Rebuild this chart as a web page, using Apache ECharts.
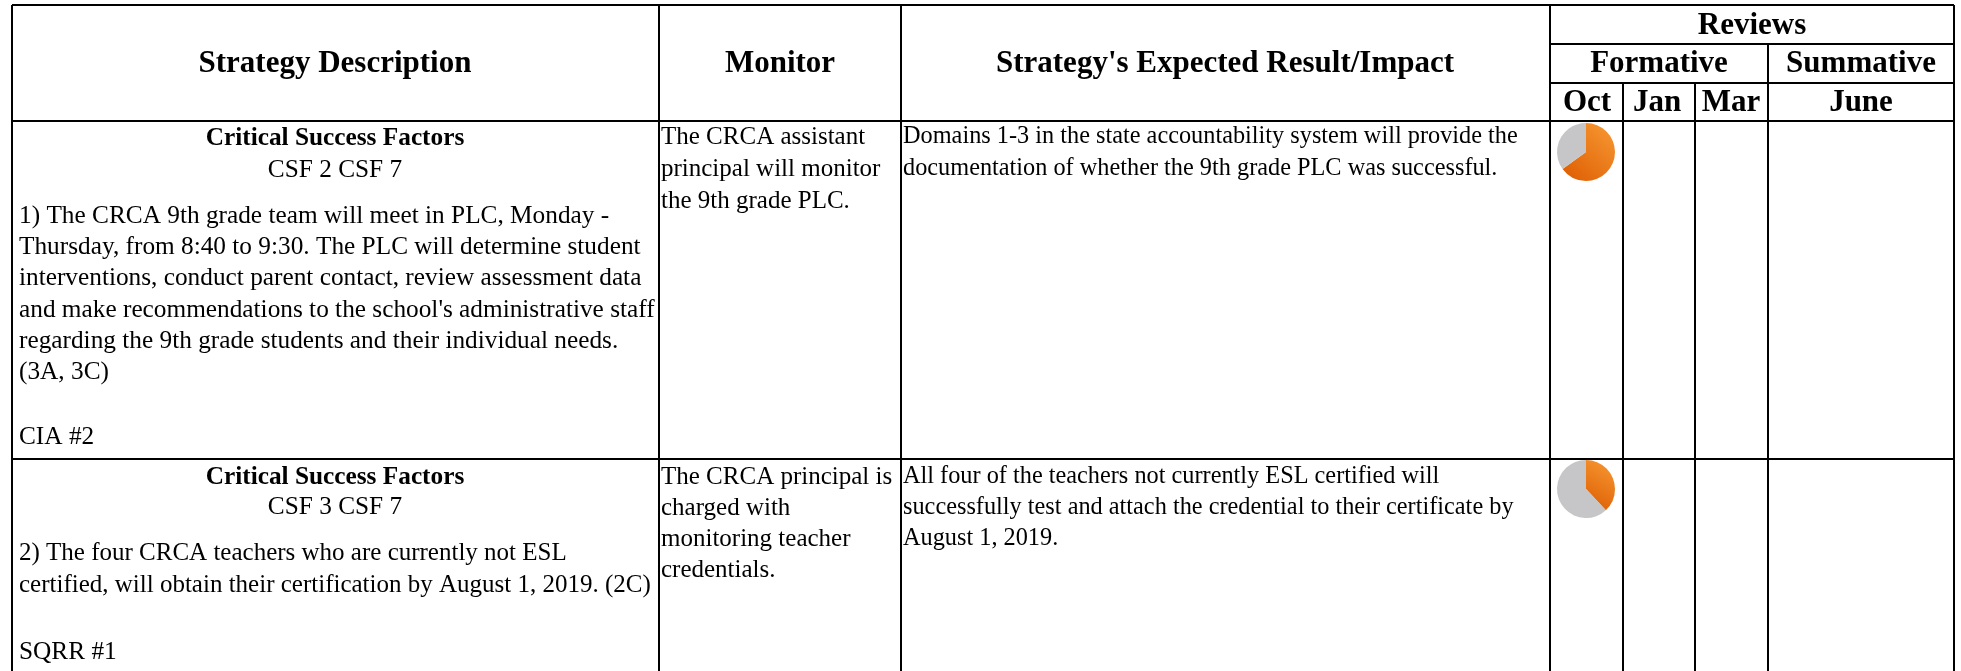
<!DOCTYPE html>
<html>
<head>
<meta charset="utf-8">
<script src="https://cdn.jsdelivr.net/npm/echarts@6/dist/echarts.min.js"></script>
<style>
  html, body { margin: 0; padding: 0; background: #fff; }
  #main { width: 1961px; height: 671px; }
</style>
</head>
<body>
<div id="main"></div>
<script>
// review pies: share of the year done
const pieDone = [65, 38]
const pieLeft = [35, 62]
const pieCenters = [[1586, 152], [1586, 489]]

const headers = ['Strategy Description', 'Monitor', "Strategy's Expected Result/Impact"]
const reviewHead = ['Reviews', 'Formative', 'Summative']
const months = ['Oct', 'Jan', 'Mar', 'June']

const row1Strategy = [
  '1) The CRCA 9th grade team will meet in PLC, Monday -',
  'Thursday, from 8:40 to 9:30. The PLC will determine student',
  'interventions, conduct parent contact, review assessment data',
  "and make recommendations to the school's administrative staff",
  'regarding the 9th grade students and their individual needs.',
  '(3A, 3C)'
]
const row1Monitor = ['The CRCA assistant', 'principal will monitor', 'the 9th grade PLC.']
const row1Result = [
  'Domains 1-3 in the state accountability system will provide the',
  'documentation of whether the 9th grade PLC was successful.'
]
const row2Strategy = [
  '2) The four CRCA teachers who are currently not ESL',
  'certified, will obtain their certification by August 1, 2019. (2C)'
]
const row2Monitor = ['The CRCA principal is', 'charged with', 'monitoring teacher', 'credentials.']
const row2Result = [
  'All four of the teachers not currently ESL certified will',
  'successfully test and attach the credential to their certificate by',
  'August 1, 2019.'
]

const FONT = '"Liberation Serif", serif'
const BODY = 25.3
const MON = 25
const RES = 24.3
const graphics = []

function txt(text, x, y, opt = {}) {
  graphics.push({
    type: 'text',
    x: x,
    y: y,
    style: {
      text: text,
      fill: '#000',
      font: (opt.bold ? 'bold ' : '') + (opt.size || BODY) + 'px ' + FONT,
      textAlign: opt.align || 'left',
      textVerticalAlign: 'middle'
    }
  })
}
function lines(list, x, y, step, size) {
  list.forEach((t, i) => txt(t, x, y + i * step, { size }))
}
function rule(x1, y1, x2, y2) {
  graphics.push({
    type: 'line',
    shape: { x1, y1, x2, y2 },
    style: { stroke: '#000', lineWidth: 2 }
  })
}

// grid of the table
rule(12, 5, 1954, 5)
rule(12, 121, 1954, 121)
rule(12, 459, 1954, 459)
rule(1550, 44, 1954, 44)
rule(1550, 83, 1954, 83)
;[12, 659, 901, 1550, 1954].forEach(x => rule(x, 5, x, 671))
;[1623, 1695].forEach(x => rule(x, 83, x, 671))
rule(1768, 44, 1768, 671)

// header
const HEAD = 31
txt(headers[0], 335, 64, { bold: true, size: HEAD, align: 'center' })
txt(headers[1], 780, 64, { bold: true, size: HEAD, align: 'center' })
txt(headers[2], 1225, 64, { bold: true, size: HEAD, align: 'center' })
txt(reviewHead[0], 1752, 26, { bold: true, size: HEAD, align: 'center' })
txt(reviewHead[1], 1659, 64, { bold: true, size: HEAD, align: 'center' })
txt(reviewHead[2], 1861, 64, { bold: true, size: HEAD, align: 'center' })
txt(months[0], 1587, 103, { bold: true, size: HEAD, align: 'center' })
txt(months[1], 1657, 103, { bold: true, size: HEAD, align: 'center' })
txt(months[2], 1731, 103, { bold: true, size: HEAD, align: 'center' })
txt(months[3], 1861, 103, { bold: true, size: HEAD, align: 'center' })

// row 1
txt('Critical Success Factors', 335, 138, { bold: true, align: 'center' })
txt('CSF 2 CSF 7', 335, 170, { align: 'center' })
lines(row1Strategy, 19, 216, 31.3, BODY)
txt('CIA #2', 19, 437)
lines(row1Monitor, 661, 137, 32, MON)
lines(row1Result, 903, 137, 32, RES)

// row 2
txt('Critical Success Factors', 335, 477, { bold: true, align: 'center' })
txt('CSF 3 CSF 7', 335, 507, { align: 'center' })
lines(row2Strategy, 19, 553, 32, 25)
txt('SQRR #1', 19, 652)
lines(row2Monitor, 661, 477, 31, MON)
lines(row2Result, 903, 477, 31, RES)

const orange = {
  type: 'linear', x: 1, y: 0, x2: 0, y2: 1,
  colorStops: [{ offset: 0, color: '#f89a35' }, { offset: 1, color: '#dd5c00' }]
}
const gray = '#c6c6c8'

const series = pieDone.map((d, i) => ({
  type: 'pie',
  silent: true,
  radius: [0, 29],
  center: pieCenters[i],
  startAngle: 90,
  clockwise: true,
  label: { show: false },
  labelLine: { show: false },
  data: [
    { value: d, name: 'done', itemStyle: { color: orange } },
    { value: pieLeft[i], name: 'left', itemStyle: { color: gray } }
  ]
}))

const chart = echarts.init(document.getElementById('main'))
chart.setOption({
  animation: false,
  backgroundColor: '#fff',
  series: series,
  graphic: { elements: graphics }
})
</script>
</body>
</html>
